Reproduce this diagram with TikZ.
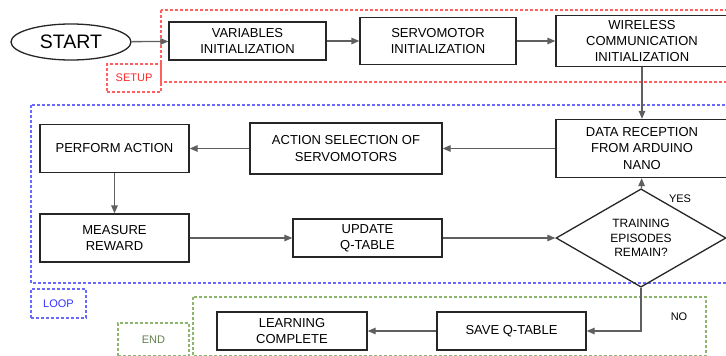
\documentclass[tikz,border=0pt]{standalone}
\usepackage{fontspec}
\setmainfont{Liberation Sans}
\usetikzlibrary{arrows.meta,shapes.geometric}

\definecolor{setupred}{RGB}{255,95,95}
\definecolor{loopblue}{RGB}{105,105,255}
\definecolor{endgreen}{RGB}{140,182,110}
\definecolor{arrowgray}{RGB}{95,95,95}

\tikzset{every picture/.style={line width=1.1pt}}
\tikzset{
  stepbox/.style={draw=black!85,line width=1.3pt,align=center,inner sep=0pt,
    font=\fontsize{13}{16.3}\selectfont},
  decision/.style={diamond,draw=black!85,line width=1.3pt,align=center,inner sep=0pt,
    minimum width=170pt,minimum height=77pt,font=\fontsize{12}{14.3}\selectfont},
  flow/.style={draw=arrowgray,line width=1.3pt,-{Triangle[length=8pt,width=6.5pt]}},
  region/.style={line width=1.1pt,dash pattern=on 3pt off 2pt},
  tag/.style={region,align=center,inner sep=0pt,font=\fontsize{11}{12}\selectfont},
  answer/.style={inner sep=0pt,font=\fontsize{11}{12}\selectfont}
}

\begin{document}
\begin{tikzpicture}[x=1pt,y=1pt,yscale=-1,xscale=1]
  \useasboundingbox (0,0) rectangle (726,356);

  %Regions
  \draw [region,draw=setupred] (161,10) rectangle (740,82) ;
  \draw [region,draw=loopblue] (31,105) rectangle (740,283) ;
  \draw [region,draw=endgreen] (193,297) rectangle (706,356) ;
  \node [tag,draw=setupred,text=red!85!white,minimum width=54pt,minimum height=28pt] (setup) at (134,78) {SETUP};
  \node [tag,draw=loopblue,text=blue!80!white,minimum width=55pt,minimum height=29pt] (loop) at (58.5,303.5) {LOOP};
  \node [tag,draw=endgreen,text=endgreen!70!black,minimum width=71pt,minimum height=33pt] (end) at (153.5,339.5) {END};

  %Setup steps
  \node [ellipse,draw=black!85,line width=1.3pt,inner sep=0pt,minimum width=120pt,minimum height=36pt,
    font=\fontsize{19.5}{22}\selectfont] (start) at (71,42) {START};
  \node [stepbox,minimum width=157pt,minimum height=38pt] (varinit) at (247.5,41) {VARIABLES\\INITIALIZATION};
  \node [stepbox,minimum width=156pt,minimum height=47pt] (servoinit) at (438,41) {SERVOMOTOR\\INITIALIZATION};
  \node [stepbox,minimum width=172pt,minimum height=51pt] (wireless) at (642,41) {WIRELESS\\COMMUNICATION\\INITIALIZATION};

  %Loop steps
  \node [stepbox,minimum width=172pt,minimum height=58pt] (datarx) at (642,148.5) {DATA RECEPTION\\FROM ARDUINO\\NANO};
  \node [stepbox,minimum width=192pt,minimum height=51pt] (actsel) at (346,148.5) {ACTION SELECTION OF\\SERVOMOTORS};
  \node [stepbox,minimum width=149pt,minimum height=48pt] (perform) at (114.5,148.5) {PERFORM ACTION};
  \node [stepbox,minimum width=149pt,minimum height=48pt] (measure) at (114.5,238) {MEASURE\\REWARD};
  \node [stepbox,minimum width=149pt,minimum height=38pt] (update) at (367.5,238) {UPDATE\\Q-TABLE};
  \node [decision] (episodes) at (641,238) {TRAINING\\EPISODES\\REMAIN?};

  %End steps
  \node [stepbox,minimum width=149pt,minimum height=38pt] (saveq) at (511.5,331) {SAVE Q-TABLE};
  \node [stepbox,minimum width=150pt,minimum height=38pt] (learned) at (292,331) {LEARNING\\COMPLETE};

  % Text Node
  \node [answer] (yes) at (680,199) {YES};
  % Text Node
  \node [answer] (no) at (679,317) {NO};

  %Connectors
  \draw [flow] (start) -- (varinit) ;
  \draw [flow] (varinit) -- (servoinit) ;
  \draw [flow] (servoinit) -- (wireless) ;
  \draw [flow] (wireless) -- (datarx) ;
  \draw [flow] (datarx) -- (actsel) ;
  \draw [flow] (actsel) -- (perform) ;
  \draw [flow] (perform) -- (measure) ;
  \draw [flow] (measure) -- (update) ;
  \draw [flow] (update) -- (episodes) ;
  \draw [flow] (episodes) -- (datarx) ;
  \draw [flow] (episodes.south) |- (saveq.east) ;
  \draw [flow] (saveq) -- (learned) ;
\end{tikzpicture}
\end{document}
